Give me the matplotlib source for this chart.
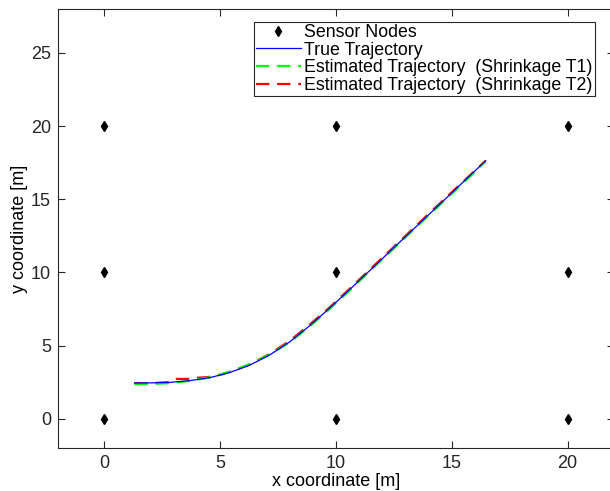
import matplotlib
matplotlib.use('Agg')
import matplotlib.pyplot as plt
import numpy as np

plt.rcParams['font.family'] = ['Liberation Sans', 'DejaVu Sans']

# sensor grid
sensor_x = [0, 10, 20, 0, 10, 20, 0, 10, 20]
sensor_y = [0, 0, 0, 10, 10, 10, 20, 20, 20]

# true trajectory
true_x = [1.3, 2.0, 2.8, 3.67, 4.54, 5.4, 6.26, 7.13, 8.0, 8.86, 9.72, 10.44,
          11.0, 12.0, 13.0, 14.0, 15.0, 16.0, 16.46]
true_y = [2.44, 2.45, 2.48, 2.6, 2.8, 3.15, 3.65, 4.35, 5.25, 6.35, 7.55, 8.6,
          9.44, 10.94, 12.44, 13.94, 15.44, 16.94, 17.63]

# estimated trajectories
t1_x = [1.3, 2.0, 2.8, 3.67, 4.54, 5.4, 6.26, 7.13, 8.0, 8.86, 9.72, 10.44,
        11.0, 12.0, 13.0, 14.0, 15.0, 16.0, 16.46]
t1_y = [2.36, 2.38, 2.43, 2.58, 2.82, 3.2, 3.72, 4.38, 5.22, 6.3, 7.5, 8.55,
        9.4, 10.9, 12.4, 13.9, 15.38, 16.88, 17.58]
t2_x = [1.3, 2.0, 2.8, 3.1, 3.6, 4.0, 4.45, 5.0, 5.4, 6.26, 7.13, 8.0, 8.86, 9.72,
        10.44, 11.0, 12.0, 13.0, 14.0, 15.0, 16.0, 16.46]
t2_y = [2.44, 2.43, 2.5, 2.72, 2.72, 2.8, 2.84, 3.0, 3.2, 3.7, 4.42, 5.32, 6.42, 7.6,
        8.66, 9.5, 11.0, 12.5, 14.0, 15.48, 16.96, 17.63]

fig = plt.figure(figsize=(6.1, 4.91), dpi=100)
ax = fig.add_axes([58 / 610, 43 / 491, 556 / 610, 439 / 491])

ax.plot(sensor_x, sensor_y, 'kd', markersize=5.5, label='Sensor Nodes', zorder=4)
ax.plot(true_x, true_y, '-', color='#0000ff', linewidth=0.9,
        label='True Trajectory', zorder=5)
ax.plot(t1_x, t1_y, '--', color='#00ff00', linewidth=1.6, dashes=(6, 3.5),
        label='Estimated Trajectory  (Shrinkage T1)', zorder=3)
ax.plot(t2_x, t2_y, '--', color='#ff0000', linewidth=1.6, dashes=(6, 3.5),
        label='Estimated Trajectory  (Shrinkage T2)', zorder=2)

ax.set_xlim(-2, 22)
ax.set_ylim(-2, 28)
ax.set_xticks([0, 5, 10, 15, 20])
ax.set_yticks([0, 5, 10, 15, 20, 25])
ax.tick_params(direction='in', top=True, right=True, length=5, width=0.8,
               labelsize=13, colors='#262626', pad=5)
for s in ax.spines.values():
    s.set_color('#262626')
    s.set_linewidth(0.8)
ax.set_xlabel('x coordinate [m]', fontsize=13, labelpad=1)
ax.set_ylabel('y coordinate [m]', fontsize=13, labelpad=2)

h, l = ax.get_legend_handles_labels()
leg = ax.legend(h, l, loc='upper left', bbox_to_anchor=(254 / 610, 1 - 22 / 491),
                bbox_transform=fig.transFigure, fontsize=12.8, handlelength=2.5,
                handletextpad=0.2, labelspacing=0.03, borderpad=0.12,
                borderaxespad=0, fancybox=False, framealpha=1, edgecolor='#262626')
leg.get_frame().set_linewidth(0.8)

fig.savefig('out.png', dpi=100)
